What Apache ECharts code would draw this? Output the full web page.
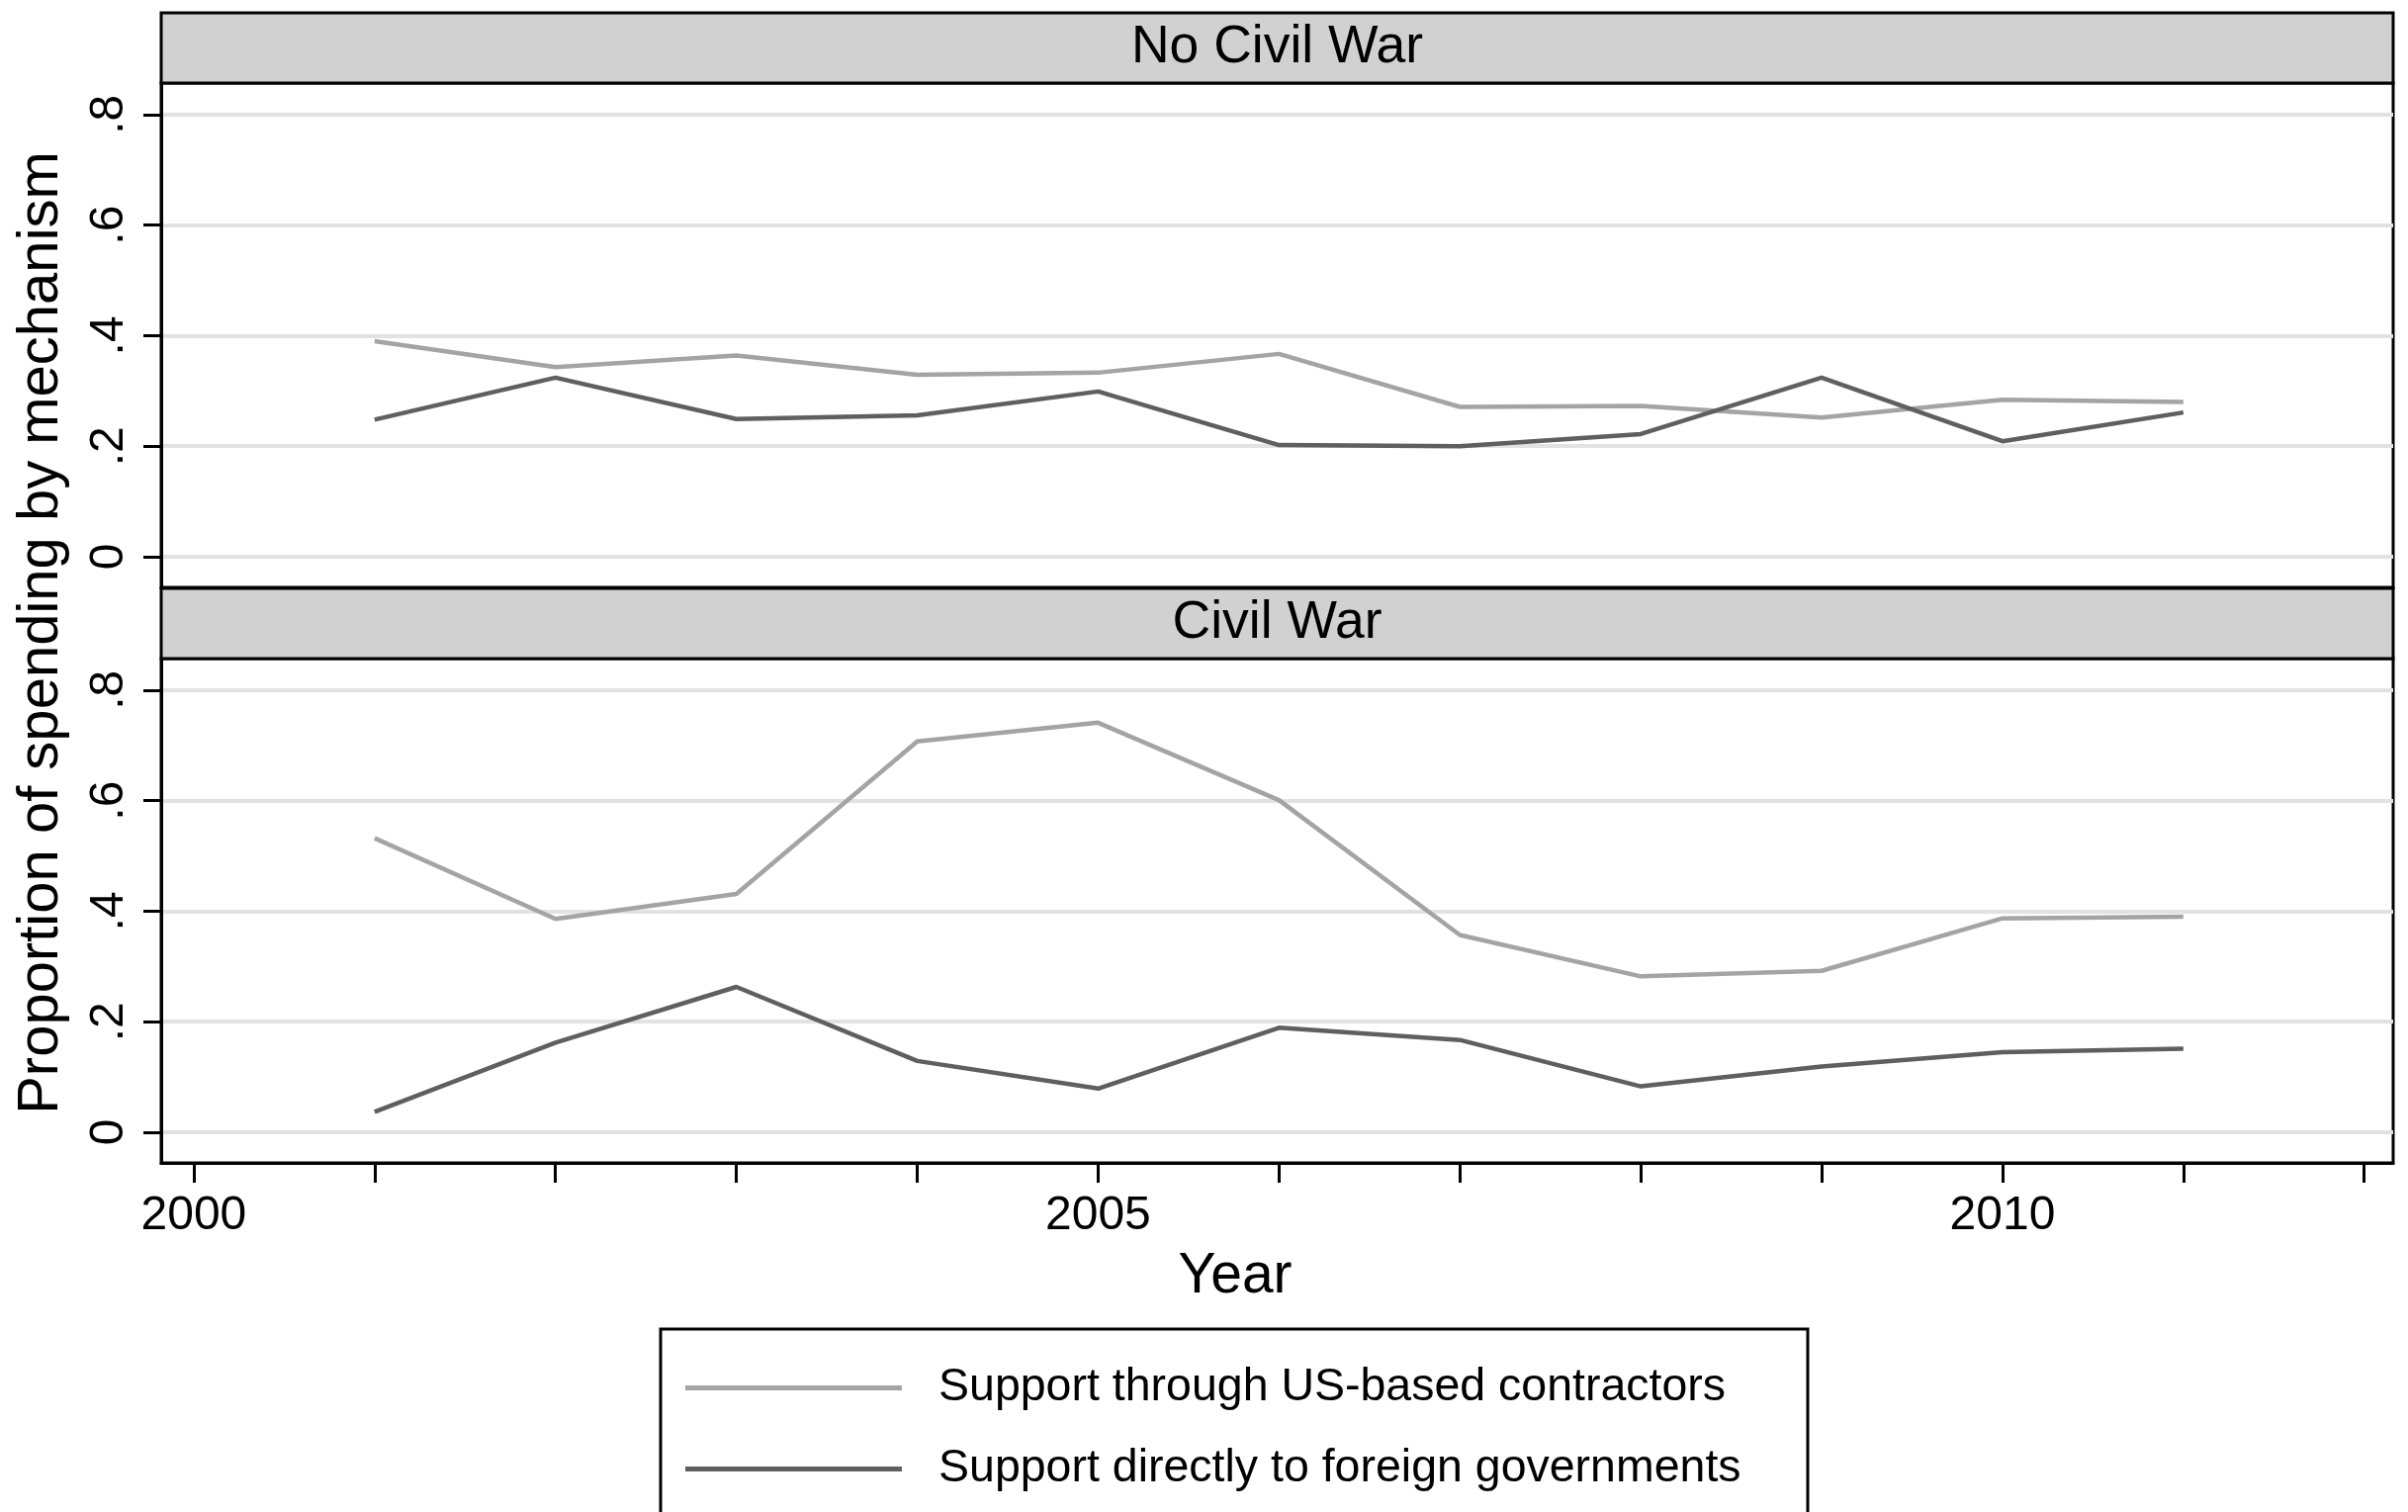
<!DOCTYPE html>
<html>
<head>
<meta charset="utf-8">
<script src="https://cdn.jsdelivr.net/npm/echarts@6/dist/echarts.min.js"></script>
<style>
html,body{margin:0;padding:0;background:#fff;}
#chart{width:2435px;height:1529px;}
</style>
</head>
<body>
<div id="chart"></div>
<script>
// ---- data ----
const years = [2001, 2002, 2003, 2004, 2005, 2006, 2007, 2008, 2009, 2010, 2011];
const panelTitles = ['No Civil War', 'Civil War'];
const seriesNames = ['Support through US-based contractors', 'Support directly to foreign governments'];
const noWarContractors = [0.390, 0.343, 0.364, 0.329, 0.333, 0.367, 0.271, 0.273, 0.252, 0.284, 0.280];
const noWarGovernments = [0.248, 0.324, 0.249, 0.256, 0.299, 0.202, 0.200, 0.222, 0.324, 0.209, 0.261];
const warContractors = [0.532, 0.386, 0.431, 0.707, 0.741, 0.601, 0.357, 0.282, 0.292, 0.387, 0.390];
const warGovernments = [0.037, 0.162, 0.263, 0.129, 0.079, 0.189, 0.167, 0.083, 0.119, 0.145, 0.151];
const xTickValues = [2000, 2001, 2002, 2003, 2004, 2005, 2006, 2007, 2008, 2009, 2010, 2011, 2012];
const xLabelValues = [2000, 2005, 2010];
const yTickValues = [0, 0.2, 0.4, 0.6, 0.8];
const yAxisTitle = 'Proportion of spending by mechanism';
const xAxisTitle = 'Year';

// ---- style ----
const FONT = '"Liberation Sans", Helvetica, Arial, sans-serif';
const LIGHT = '#a4a4a4';
const DARK = '#5f5f5f';
const STRIP = '#d1d1d1';

const chart = echarts.init(document.getElementById('chart'), null, {renderer: 'canvas'});

const gridTops = [84, 666];
const gridH = 510;
const gridLeft = 163, gridRight = 15;

function pairs(vals) { return years.map((y, i) => [y, vals[i]]); }
function yFmt(v) { return v === 0 ? '0' : String(+v.toFixed(1)).replace(/^0\./, '.'); }

const xAxes = [0, 1].map(i => ({
  type: 'value', gridIndex: i, min: 1999.82, max: 2012.16,
  axisLine: {show: true, onZero: false, lineStyle: {color: '#000', width: 3}},
  axisTick: {show: i === 1, customValues: xTickValues, length: 20, inside: false, lineStyle: {color: '#000', width: 3}},
  axisLabel: {show: i === 1, customValues: xLabelValues, formatter: v => String(Math.round(v)), fontFamily: FONT, fontSize: 48, color: '#000', margin: 30},
  splitLine: {show: false}
}));

const yAxes = [0, 1].map(i => ({
  type: 'value', gridIndex: i, min: -0.0555, max: 0.857,
  axisLine: {show: true, onZero: false, lineStyle: {color: '#000', width: 3}},
  axisTick: {show: true, customValues: yTickValues, length: 18, inside: false, lineStyle: {color: '#000', width: 3}},
  axisLabel: {show: true, customValues: yTickValues, formatter: yFmt, rotate: 90, fontFamily: FONT, fontSize: 48, color: '#000', margin: 28},
  splitLine: {show: true, lineStyle: {color: '#e2e2e2', width: 4}}
}));

const dataSets = [[noWarContractors, noWarGovernments], [warContractors, warGovernments]];
const series = [];
dataSets.forEach((pair, g) => {
  pair.forEach((vals, k) => {
    series.push({
      name: seriesNames[k], type: 'line', xAxisIndex: g, yAxisIndex: g,
      data: pairs(vals), showSymbol: false, symbol: 'none', silent: true,
      lineStyle: {color: k === 0 ? LIGHT : DARK, width: 4.5},
      itemStyle: {color: k === 0 ? LIGHT : DARK},
      z: 3, animation: false
    });
  });
});

const graphics = [];
panelTitles.forEach((t, i) => {
  graphics.push({
    type: 'rect', shape: {x: gridLeft, y: gridTops[i] - 71, width: 2435 - gridLeft - gridRight, height: 71},
    style: {fill: STRIP, stroke: '#000', lineWidth: 3}, z: 10
  });
  graphics.push({
    type: 'text', x: (gridLeft + 2435 - gridRight) / 2, y: gridTops[i] - 35.5,
    style: {text: t, fontFamily: FONT, fontSize: 53.5, fill: '#000', textAlign: 'center', textVerticalAlign: 'middle'}, z: 11
  });
});
graphics.push({
  type: 'text', x: 42, y: 640, rotation: Math.PI / 2,
  style: {text: yAxisTitle, fontFamily: FONT, fontSize: 58, fill: '#000', textAlign: 'center', textVerticalAlign: 'middle'}
});
graphics.push({
  type: 'text', x: 1249, y: 1291,
  style: {text: xAxisTitle, fontFamily: FONT, fontSize: 57, fill: '#000', textAlign: 'center', textVerticalAlign: 'middle'}
});
// legend frame (runs off the bottom edge, as in the original)
graphics.push({
  type: 'rect', shape: {x: 668, y: 1344, width: 1160, height: 400},
  style: {fill: 'none', stroke: '#000', lineWidth: 3}, z: 0
});

chart.setOption({
  animation: false,
  backgroundColor: '#fff',
  grid: gridTops.map(t => ({left: gridLeft, right: gridRight, top: t, height: gridH, show: true, borderColor: '#000', borderWidth: 3, backgroundColor: 'transparent', containLabel: false})),
  xAxis: xAxes,
  yAxis: yAxes,
  legend: {
    data: seriesNames, orient: 'vertical', left: 668, top: 1344,
    icon: 'rect', itemWidth: 219, itemHeight: 5, itemGap: 35,
    padding: [36, 0, 0, 25],
    selectedMode: false,
    textStyle: {fontFamily: FONT, fontSize: 46.5, color: '#000', padding: [0, 0, 0, 32]}
  },
  graphic: graphics,
  series: series
});
</script>
</body>
</html>
